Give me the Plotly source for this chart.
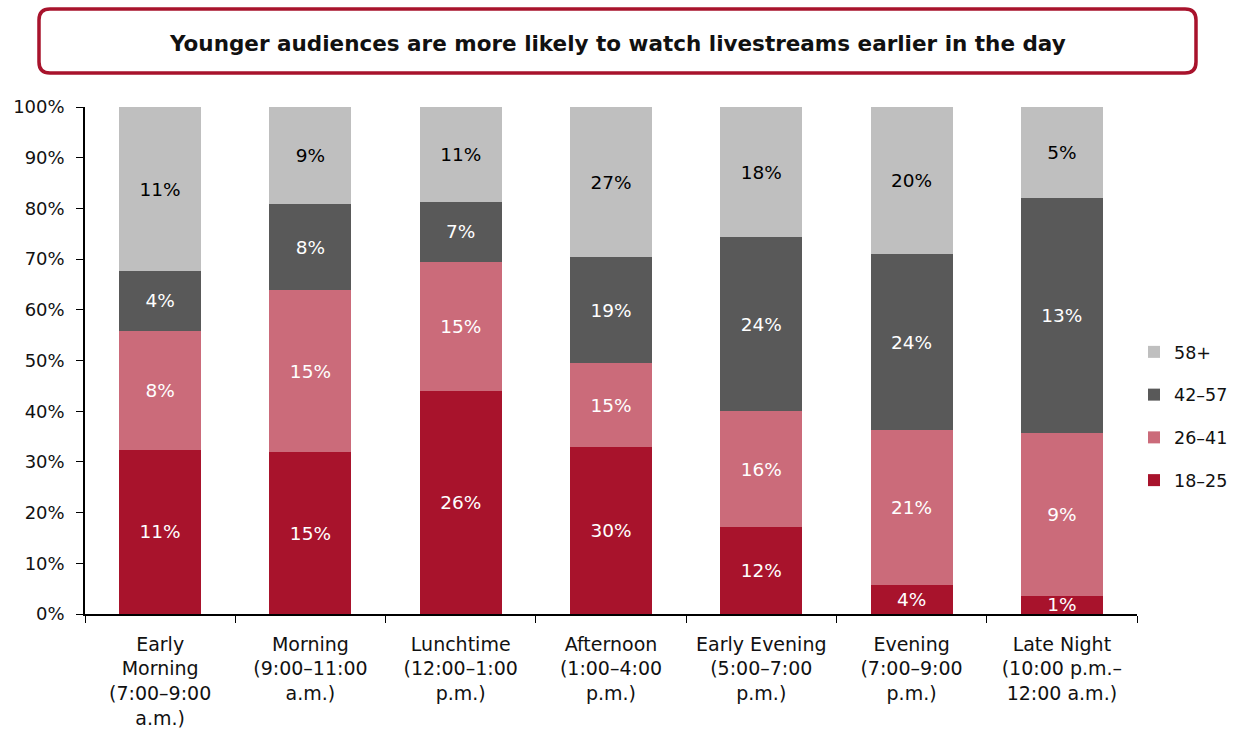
import plotly.graph_objects as go

# Viewing share by age group for each time slot (raw percentages shown on the bars)
categories = [
    "Early<br>Morning<br>(7:00–9:00<br>a.m.)",
    "Morning<br>(9:00–11:00<br>a.m.)",
    "Lunchtime<br>(12:00–1:00<br>p.m.)",
    "Afternoon<br>(1:00–4:00<br>p.m.)",
    "Early Evening<br>(5:00–7:00<br>p.m.)",
    "Evening<br>(7:00–9:00<br>p.m.)",
    "Late Night<br>(10:00 p.m.–<br>12:00 a.m.)",
]
age_18_25 = [11, 15, 26, 30, 12, 4, 1]
age_26_41 = [8, 15, 15, 15, 16, 21, 9]
age_42_57 = [4, 8, 7, 19, 24, 24, 13]
age_58_plus = [11, 9, 11, 27, 18, 20, 5]

y_ticks = list(range(0, 101, 10))

series = [
    ("18–25", age_18_25, "#a8132c", "white", 4),
    ("26–41", age_26_41, "#cb6b7a", "white", 3),
    ("42–57", age_42_57, "#595959", "white", 2),
    ("58+", age_58_plus, "#bfbfbf", "black", 1),
]

FONT = "DejaVu Sans"
W, H = 1239, 730
L, R, T, B = 85, 102, 107, 116
PW, PH = W - L - R, H - T - B

fig = go.Figure()
for name, vals, color, tcolor, rank in series:
    fig.add_trace(go.Bar(
        x=categories, y=vals, name=name,
        marker=dict(color=color, line=dict(width=0)),
        text=[f"{v}%" for v in vals],
        textposition="inside", insidetextanchor="middle",
        textangle=0,
        textfont=dict(color=tcolor, size=18.5, family=FONT),
        legendgroup=name, legendrank=rank,
        hoverinfo="skip",
    ))


def px_x(p):
    return (p - L) / PW


def px_y(p):
    return (H - B - p) / PH


# Rounded frame around the headline
x0, x1, y0, y1, r = 39, 1196, 9, 73, 11
pts = [
    ("M", x0 + r, y0), ("L", x1 - r, y0), ("Q", x1, y0, x1, y0 + r),
    ("L", x1, y1 - r), ("Q", x1, y1, x1 - r, y1), ("L", x0 + r, y1),
    ("Q", x0, y1, x0, y1 - r), ("L", x0, y0 + r), ("Q", x0, y0, x0 + r, y0),
]
path = ""
for cmd, *c in pts:
    coords = []
    for i in range(0, len(c), 2):
        coords.append(f"{px_x(c[i]):.5f},{px_y(c[i + 1]):.5f}")
    path += cmd + " ".join(coords) + " "
path += "Z"

fig.add_shape(type="path", path=path, xref="paper", yref="paper",
              line=dict(color="#a8132c", width=3.5), fillcolor="white", layer="below")

fig.add_annotation(
    text="<b>Younger audiences are more likely to watch livestreams earlier in the day</b>",
    x=px_x(617), y=px_y(43), xref="paper", yref="paper",
    showarrow=False, xanchor="center", yanchor="middle",
    font=dict(size=21.5, color="#111111", family=FONT),
)

fig.update_layout(
    width=W, height=H,
    margin=dict(l=L, r=R, t=T, b=B, autoexpand=False),
    barmode="stack", barnorm="percent", bargap=0.455,
    plot_bgcolor="white", paper_bgcolor="white",
    font=dict(family=FONT, size=18, color="#111111"),
    uniformtext=dict(mode="show", minsize=16),
    showlegend=True,
    legend=dict(
        x=px_x(1134), y=px_y(334), xanchor="left", yanchor="top",
        traceorder="grouped", tracegroupgap=17,
        font=dict(size=17.5, family=FONT), itemwidth=30,
        bgcolor="rgba(0,0,0,0)",
    ),
    xaxis=dict(
        showline=True, linecolor="black", linewidth=1.5,
        ticks="outside", tickson="boundaries", ticklen=7, tickcolor="black",
        tickfont=dict(size=19, family=FONT), ticklabelstandoff=12,
        showgrid=False,
    ),
    yaxis=dict(
        range=[0, 100], tickvals=y_ticks, ticktext=[f"{v}%" for v in y_ticks],
        showline=True, linecolor="black", linewidth=1.5,
        ticks="outside", ticklen=7, tickcolor="black",
        tickfont=dict(size=18, family=FONT), ticklabelstandoff=8,
        showgrid=False, zeroline=False,
    ),
)

fig.write_html("out.html")
